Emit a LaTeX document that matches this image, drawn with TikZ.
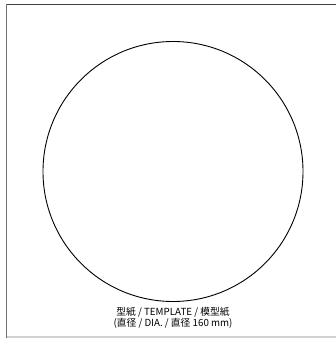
\documentclass[tikz,border=0pt]{standalone}
\usepackage{fontspec}
\setmainfont{Noto Sans CJK JP}
\begin{document}
\begin{tikzpicture}[x = 1bp, y = 1bp]
\useasboundingbox (0,0) rectangle (336,338);
\draw[black!75, line width = 1bp] (6.5,333) -- (336,333);
\draw[black!55, line width = 1.6bp] (6.5,333.5) -- (6.5,0);
\draw[black!18, line width = 1.2bp] (7,1) -- (336,1);
\node[draw, circle, line width = 0.9bp, minimum size = 260bp, inner sep = 0pt] (disc) at (173,166.5) {};
\node[font = \fontsize{9.8}{10}\selectfont, inner sep = 0pt] (title) at (173,26) {型紙 / TEMPLATE / 模型紙};
\node[font = \fontsize{9.8}{10}\selectfont, inner sep = 0pt] (size) at (173,14.5) {(直径 / DIA. / 直径 160 mm)};
\end{tikzpicture}
\end{document}
